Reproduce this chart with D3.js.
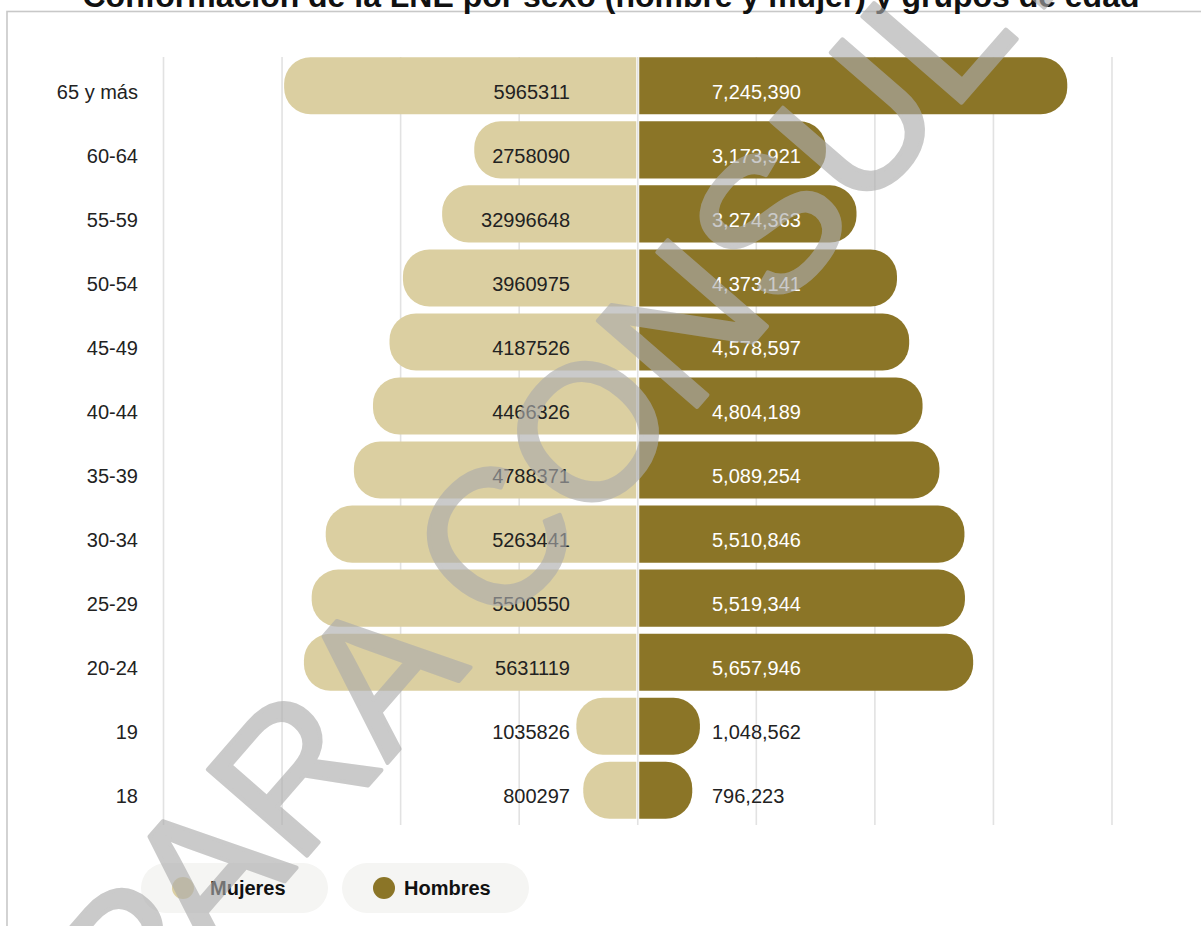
<!DOCTYPE html>
<html><head><meta charset="utf-8">
<script src="https://cdn.jsdelivr.net/npm/d3@7"></script>
<style>html,body{margin:0;padding:0;background:#fff;overflow:hidden}</style>
</head><body>
<svg id="c" width="1201" height="926" xmlns="http://www.w3.org/2000/svg"></svg>
<script>
const title = "Conformación de la LNE por sexo (hombre y mujer) y grupos de edad";
const categories = ["65 y más","60-64","55-59","50-54","45-49","40-44","35-39","30-34","25-29","20-24","19","18"];
// bar values as drawn
const mujeres = [5965311,2758090,3299665,3960975,4187526,4466326,4788371,5263441,5500550,5631119,1035826,800297];
const hombres = [7245390,3173921,3690000,4373141,4578597,4804189,5089254,5510846,5519344,5657946,1048562,796223];
// value labels as printed in the chart
const mujeresLabels = ["5965311","2758090","32996648","3960975","4187526","4466326","4788371","5263441","5500550","5631119","1035826","800297"];
const hombresLabels = ["7,245,390","3,173,921","3,274,363","4,373,141","4,578,597","4,804,189","5,089,254","5,510,846","5,519,344","5,657,946","1,048,562","796,223"];
const xTicks = [-8000000,-6000000,-4000000,-2000000,0,2000000,4000000,6000000,8000000];
const seriesNames = ["Mujeres","Hombres"];
const watermark = "PARA CONSULTA";

const colMuj = "#dbcfa1", colHom = "#8b7527";
const FONT = "'Liberation Sans', Arial, Helvetica, sans-serif";
const svg = d3.select("#c").style("font-family", FONT);

// frame
svg.append("rect").attr("x",7).attr("y",11.5).attr("width",1300).attr("height",1000)
  .attr("fill","#fff").attr("stroke","#c8c8c8").attr("stroke-width",1.6);

// title (partially cut at top)
const t = svg.append("text").attr("x",611).attr("y",7).attr("text-anchor","middle")
  .attr("font-weight","bold").attr("font-size",24).attr("fill","#111").text(title);
const tw = t.node().getComputedTextLength();
t.attr("font-size", 24*1057/tw);

const x = d3.scaleLinear().domain([-8000000, 8000000]).range([163.5, 1112]);
const y = d3.scaleBand().domain(categories).range([53.8, 822.3]).paddingInner(0.109).paddingOuter(0.0545);
const x0 = x(0);

// grid
svg.append("g").selectAll("line").data(xTicks).join("line")
  .attr("x1", d=>x(d)).attr("x2", d=>x(d)).attr("y1",57).attr("y2",825)
  .attr("stroke","#e2e2e2").attr("stroke-width",1.6);

const h = y.bandwidth();
const r = 26.5;
function barPath(xs, xe, top){
  const dir = xe > xs ? 1 : -1;
  let w = Math.abs(xe - xs);
  w = Math.max(w, 2*r);
  const xo = xs + dir*w;
  const p = d3.path();
  p.moveTo(xs, top);
  p.lineTo(xo - dir*r, top);
  p.arcTo(xo, top, xo, top + r, r);
  p.lineTo(xo, top + h - r);
  p.arcTo(xo, top + h, xo - dir*r, top + h, r);
  p.lineTo(xs, top + h);
  p.closePath();
  return p.toString();
}

const rows = categories.map((c,i)=>({c, m:mujeres[i], ml:mujeresLabels[i], hv:hombres[i], hl:hombresLabels[i]}));

svg.append("g").selectAll("path").data(rows).join("path")
  .attr("d", d=>barPath(x0-1.5, x(-d.m), y(d.c))).attr("fill", colMuj);
svg.append("g").selectAll("path").data(rows).join("path")
  .attr("d", d=>barPath(x0+1.5, x(d.hv), y(d.c))).attr("fill", colHom);

const textOff = 6;
const FS = 20;
svg.append("g").selectAll("text").data(rows).join("text")
  .attr("x",138).attr("y", d=>y(d.c)+h/2+textOff).attr("dy","0.36em")
  .attr("text-anchor","end").attr("font-size",FS).attr("fill","#222").text(d=>d.c);
svg.append("g").selectAll("text").data(rows).join("text")
  .attr("x",570).attr("y", d=>y(d.c)+h/2+textOff).attr("dy","0.36em")
  .attr("text-anchor","end").attr("font-size",FS).attr("fill","#222").text(d=>d.ml);
const hx = 712;
svg.append("g").selectAll("text").data(rows).join("text")
  .attr("x",hx).attr("y", d=>y(d.c)+h/2+textOff).attr("dy","0.36em")
  .attr("text-anchor","start").attr("font-size",FS)
  .attr("fill", d=> x(d.hv) > hx + 40 ? "#fff" : "#222").text(d=>d.hl);

// legend
const leg = svg.append("g");
const legX = [141, 342];
seriesNames.forEach((n,i)=>{
  const g = leg.append("g").attr("transform",`translate(${legX[i]},863)`);
  g.append("rect").attr("width",187).attr("height",50).attr("rx",25).attr("fill","#f5f5f3");
  g.append("circle").attr("cx",42).attr("cy",25).attr("r",11).attr("fill", i===0?colMuj:colHom);
  g.append("text").attr("x",i===0?69:62).attr("y",25).attr("dy","0.36em").attr("font-size",FS)
    .attr("font-weight","bold").attr("fill","#111").text(n);
});

// watermark
svg.append("g").attr("opacity",0.63)
  .append("text").attr("transform","translate(139,1049) rotate(-49)")
  .attr("text-anchor","start").attr("font-size",191)
  .attr("fill","#acacac").attr("stroke","#acacac").attr("stroke-width",4)
  .attr("stroke-linejoin","round").text(watermark);
</script>
</body></html>
